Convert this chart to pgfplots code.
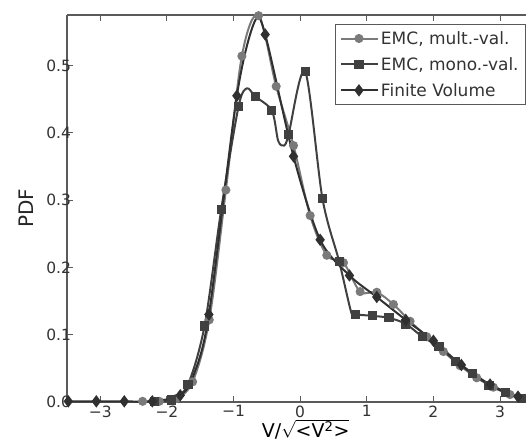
\documentclass[border=0pt]{standalone}
\usepackage{fontspec}
\setmainfont{DejaVu Sans}
\usepackage{pgfplots}
\pgfplotsset{compat=1.18}
\definecolor{cmult}{HTML}{7A7A7A}
\definecolor{cmono}{HTML}{404040}
\definecolor{cfv}{HTML}{303030}
\definecolor{cax}{HTML}{5A5A5A}
\begin{document}
\begin{tikzpicture}
\begin{axis}[name=ax, scale only axis, width=459pt, height=387pt,
  xmin=-3.5, xmax=3.39, ymin=0, ymax=0.575,
  axis x line=box, axis y line*=left,
  axis line style={cax, line width=1.2pt},
  tick align=inside, major tick length=6pt,
  every tick/.style={cax, line width=1pt},
  xtick={-3,-2,-1,0,1,2,3}, xticklabels={−3,−2,−1,0,1,2,3},
  ytick={0,0.1,0.2,0.3,0.4,0.5}, yticklabels={0.0,0.1,0.2,0.3,0.4,0.5},
  tick label style={font=\fontsize{15.5}{17}\selectfont, text=black!80},
  xticklabel style={yshift=0pt},
  yticklabel style={xshift=7.5pt},
  xlabel={V/$\sqrt{\mbox{<V\textsuperscript{2}>}}$},
  ylabel={PDF},
  xlabel style={at={(axis description cs:0.52,-0.0985)}, anchor=south, inner sep=0.5pt, font=\fontsize{19}{21}\selectfont},
  ylabel style={at={(axis description cs:-0.0893,0.5)}, anchor=center, font=\fontsize{20}{22}\selectfont, text=black!85},
  legend style={at={(axis description cs:1,0.977)}, anchor=north east, draw=cax, line width=0.8pt,
    font=\fontsize{17}{20}\selectfont, text=black!80, row sep=7.5pt, inner xsep=5pt, inner ysep=5pt},
  legend cell align=left,
  legend image code/.code={\draw[mark indices={2}] plot coordinates {(0pt,0pt) (18pt,0pt) (37pt,0pt)};},
]
\addplot[cmult, line width=2pt, smooth, tension=0.55, mark=*, mark size=3.5pt, mark options={fill=cmult, draw=cmult}]
coordinates {(-2.365,0.001) (-2.115,0.001) (-1.865,0.005) (-1.615,0.030) (-1.365,0.122) (-1.115,0.315) (-0.875,0.514) (-0.625,0.574) (-0.36,0.469) (-0.1,0.381) (0.15,0.277) (0.4,0.218) (0.65,0.207) (0.9,0.164) (1.15,0.163) (1.4,0.145) (1.65,0.120) (1.9,0.097) (2.15,0.075) (2.4,0.054) (2.65,0.036) (2.9,0.022) (3.15,0.011) (3.4,0.004)};
\addlegendentry{EMC, mult.-val.}
\addplot[cmono, line width=2pt, smooth, tension=0.5, mark=square*, mark size=3.6pt, mark options={fill=cmono, draw=cmono},
  mark indices={1,2,3,4,5,6,8,9,12,13,14,15,17,18,19,20,21,22,23,24,25,26,27}]
coordinates {(-2.185,0.001) (-1.935,0.003) (-1.685,0.026) (-1.435,0.113) (-1.185,0.286) (-0.925,0.439) (-0.8,0.466) (-0.675,0.454) (-0.425,0.433) (-0.33,0.388) (-0.24,0.381) (-0.175,0.397) (0.075,0.491) (0.335,0.302) (0.585,0.209) (0.77,0.132) (0.835,0.130) (1.085,0.128) (1.335,0.125) (1.585,0.116) (1.835,0.097) (2.085,0.082) (2.335,0.060) (2.585,0.042) (2.835,0.025) (3.085,0.014) (3.335,0.005)};
\addlegendentry{EMC, mono.-val.}
\addplot[cfv, line width=2pt, smooth, tension=0.5, mark=diamond*, mark size=4.6pt, mark options={fill=cfv, draw=cfv},
  mark indices={1,2,3,4,5,7,8,10,11,12,13,14,15,16,17,18,19}]
coordinates {(-3.48,0.001) (-3.06,0.001) (-2.64,0.001) (-2.22,0.001) (-1.80,0.010) (-1.6,0.040) (-1.37,0.130) (-0.95,0.455) (-0.68,0.566) (-0.525,0.546) (-0.1,0.365) (0.30,0.241) (0.74,0.188) (1.15,0.156) (1.585,0.122) (2.0,0.091) (2.42,0.055) (2.85,0.026) (3.27,0.008) (3.45,0.003)};
\addlegendentry{Finite Volume}
\end{axis}
\pgfresetboundingbox
\path[use as bounding box] ([xshift=-67pt,yshift=-39pt]ax.south west) rectangle ([yshift=15pt]ax.north east);
\end{tikzpicture}
\end{document}
